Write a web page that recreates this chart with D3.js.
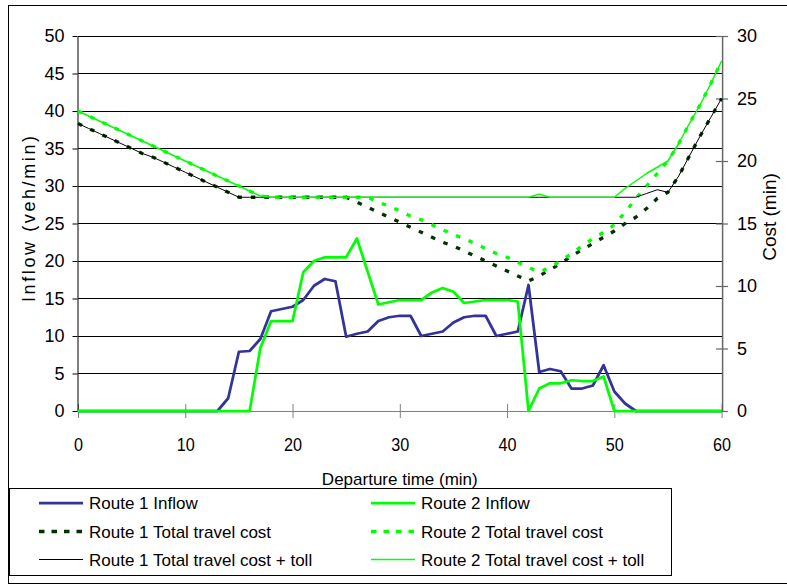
<!DOCTYPE html>
<html><head><meta charset="utf-8">
<script src="https://cdn.jsdelivr.net/npm/d3@7"></script>
<style>
body{margin:0;background:#fff}
svg{display:block}
text{font-family:"Liberation Sans",Arial,sans-serif;fill:#000}
</style>
</head><body>
<svg id="c" width="787" height="586"></svg>
<script>
// ---- data ----
const departureTime = [0,1,2,3,4,5,6,7,8,9,10,11,12,13,14,15,16,17,18,19,20,21,22,23,24,25,26,27,28,29,30,31,32,33,34,35,36,37,38,39,40,41,42,43,44,45,46,47,48,49,50,51,52,53,54,55,56,57,58,59,60];
const route1Inflow = [0,0,0,0,0,0,0,0,0,0,0,0,0,0,1.7,7.9,8.0,9.6,13.3,13.6,13.9,14.8,16.7,17.6,17.3,9.9,10.3,10.6,12.0,12.5,12.7,12.7,10.0,10.3,10.6,11.8,12.5,12.7,12.7,10.0,10.3,10.6,16.8,5.2,5.6,5.3,3.0,3.0,3.4,6.1,2.6,1.0,0,0,0,0,0,0,0,0,0];
const route2Inflow = [0,0,0,0,0,0,0,0,0,0,0,0,0,0,0,0,0,8.4,12.0,12.0,12.0,18.5,20.0,20.5,20.5,20.5,23.0,18.6,14.2,14.5,14.8,14.8,14.8,15.8,16.4,15.9,14.4,14.6,14.8,14.8,14.8,14.6,0,3.0,3.7,3.7,4.1,4.0,4.0,4.6,0,0,0,0,0,0,0,0,0,0,0];
const route1Cost = [23.0,22.6,22.2,21.8,21.4,21.0,20.6,20.3,19.9,19.5,19.1,18.7,18.3,17.9,17.5,17.1,17.1,17.1,17.1,17.1,17.1,17.1,17.1,17.1,17.1,17.1,16.7,16.3,15.9,15.5,15.1,14.7,14.3,13.9,13.5,13.2,12.8,12.4,12.0,11.6,11.2,10.8,10.4,10.8,11.3,11.8,12.4,12.9,13.4,13.9,14.4,15.0,15.5,16.2,17.0,17.5,18.8,20.4,22.0,23.5,25.0];
const route2Cost = [24.0,23.6,23.2,22.8,22.4,22.0,21.6,21.2,20.8,20.4,20.0,19.6,19.2,18.8,18.4,18.0,17.6,17.2,17.1,17.1,17.1,17.1,17.1,17.1,17.1,17.1,17.1,17.1,16.7,16.4,16.0,15.6,15.3,14.9,14.5,14.1,13.8,13.4,13.0,12.6,12.3,11.9,11.5,11.1,11.5,12.0,12.6,13.2,13.8,14.3,14.9,15.9,17.0,18.0,19.0,20.0,21.4,23.0,24.5,26.2,28.0];
const route1CostToll = [23.0,22.6,22.2,21.8,21.4,21.0,20.6,20.3,19.9,19.5,19.1,18.7,18.3,17.9,17.5,17.1,17.1,17.1,17.1,17.1,17.1,17.1,17.1,17.1,17.1,17.1,17.1,17.1,17.1,17.1,17.1,17.1,17.1,17.1,17.1,17.1,17.1,17.1,17.1,17.1,17.1,17.1,17.1,17.1,17.1,17.1,17.1,17.1,17.1,17.1,17.1,17.1,17.1,17.4,17.7,17.5,18.8,20.4,22.0,23.5,25.0];
const route2CostToll = [24.0,23.6,23.2,22.8,22.4,22.0,21.6,21.2,20.8,20.4,20.0,19.6,19.2,18.8,18.4,18.0,17.6,17.2,17.1,17.1,17.1,17.1,17.1,17.1,17.1,17.1,17.1,17.1,17.1,17.1,17.1,17.1,17.1,17.1,17.1,17.1,17.1,17.1,17.1,17.1,17.1,17.1,17.1,17.35,17.1,17.1,17.1,17.1,17.1,17.1,17.1,17.8,18.4,19.0,19.5,20.0,21.4,23.0,24.5,26.2,28.0];
const xTicks = [0,10,20,30,40,50,60];
const leftTicks = [0,5,10,15,20,25,30,35,40,45,50];
const rightTicks = [0,5,10,15,20,25,30];
const legendLabels = ["Route 1 Inflow","Route 2 Inflow","Route 1 Total travel cost","Route 2 Total travel cost","Route 1 Total travel cost + toll","Route 2 Total travel cost + toll"];

// ---- chart ----
const svg = d3.select('#c');
const x = d3.scaleLinear().domain([0,60]).range([78,721.6]);
const yL = d3.scaleLinear().domain([0,50]).range([411,36]);
const yR = d3.scaleLinear().domain([0,30]).range([411,36]);

svg.append('rect').attr('x',8.5).attr('y',5.5).attr('width',800).attr('height',578)
  .attr('fill','#fff').attr('stroke','#000').attr('stroke-width',1);

// gridlines
svg.append('g').selectAll('line').data(leftTicks.filter(v=>v>0)).join('line')
  .attr('x1',x(0)).attr('x2',x(60))
  .attr('y1',d=>yL(d)).attr('y2',d=>yL(d))
  .attr('stroke','#000').attr('stroke-width',1).attr('shape-rendering','crispEdges');

function squeeze(sel, ratio){
  sel.each(function(){
    const w = this.getComputedTextLength();
    d3.select(this).attr('textLength', w*ratio).attr('lengthAdjust','spacingAndGlyphs');
  });
}

// bottom axis
const gx = svg.append('g').attr('transform',`translate(0,${yL(0)})`)
  .call(d3.axisBottom(x).tickValues(xTicks).tickSize(7).tickSizeOuter(0).tickPadding(20).tickFormat(d3.format('d')));
gx.select('.domain').attr('stroke','#808080');
gx.selectAll('.tick line').attr('y1',-7).attr('stroke','#808080');
gx.selectAll('.tick text').attr('font-size',18).attr('font-family','"Liberation Sans",Arial,sans-serif');
squeeze(gx.selectAll('.tick text'),0.9);

// left axis
const gl = svg.append('g').attr('transform',`translate(${x(0)-0.5},0)`)
  .call(d3.axisLeft(yL).tickValues(leftTicks).tickSize(5).tickSizeOuter(0).tickPadding(8));
gl.select('.domain').attr('stroke','#000');
gl.selectAll('.tick line').attr('stroke','#000');
gl.selectAll('.tick text').attr('font-size',18).attr('font-family','"Liberation Sans",Arial,sans-serif');

// right axis
const gr = svg.append('g').attr('transform',`translate(${x(60)+0.5},0)`)
  .call(d3.axisRight(yR).tickValues(rightTicks).tickSize(6).tickSizeOuter(0).tickPadding(9));
gr.select('.domain').attr('stroke','#666').attr('stroke-width',1.5);
gr.selectAll('.tick line').attr('x1',-6).attr('stroke','#666').attr('stroke-width',1.2);
gr.selectAll('.tick text').attr('font-size',18).attr('font-family','"Liberation Sans",Arial,sans-serif');

// axis titles
svg.append('text').attr('x',x(30)).attr('y',485).attr('text-anchor','middle')
  .attr('font-size',17).text('Departure time (min)');
svg.append('text').attr('transform','translate(35,219) rotate(-90)').attr('text-anchor','middle')
  .attr('font-size',18).attr('textLength',166).attr('lengthAdjust','spacing').text('Inflow (veh/min)');
svg.append('text').attr('transform','translate(776,217) rotate(-90)').attr('text-anchor','middle')
  .attr('font-size',19).text('Cost (min)');

// series
const lineL = vals => d3.line().x((d,i)=>x(departureTime[i])).y(d=>yL(d))(vals);
const lineR = vals => d3.line().x((d,i)=>x(departureTime[i])).y(d=>yR(d))(vals);

const styles = [
  {stroke:'#333399', w:2.75, dash:null},
  {stroke:'#00ff00', w:2.75, dash:null},
  {stroke:'#003300', w:3.3, dash:'4.5,9'},
  {stroke:'#00ff00', w:3.3, dash:'4.5,9'},
  {stroke:'#000000', w:1, dash:null},
  {stroke:'#00ff00', w:1.5, dash:null}
];
const paths = [lineL(route1Inflow), lineL(route2Inflow), lineR(route1Cost), lineR(route2Cost), lineR(route1CostToll), lineR(route2CostToll)];
const plot = svg.append('g');
paths.forEach((p,i)=>{
  plot.append('path').attr('d',p).attr('fill','none')
    .attr('stroke',styles[i].stroke).attr('stroke-width',styles[i].w)
    .attr('stroke-linejoin','round')
    .attr('stroke-dasharray',styles[i].dash);
});

// legend
const lg = svg.append('g');
lg.append('rect').attr('x',9.5).attr('y',488.5).attr('width',662).attr('height',87)
  .attr('fill','#fff').attr('stroke','#000').attr('stroke-width',1);
const rowsY = [503,531.5,559.5];
const colX = [39,371];
legendLabels.forEach((lab,i)=>{
  const c = i%2, r = Math.floor(i/2);
  const yy = rowsY[r];
  lg.append('line').attr('x1',colX[c]).attr('x2',colX[c]+44).attr('y1',yy).attr('y2',yy)
    .attr('stroke',styles[i].stroke).attr('stroke-width',styles[i].w)
    .attr('stroke-dasharray',styles[i].dash ? '5.5,7' : null);
  lg.append('text').attr('x',colX[c]+50).attr('y',yy+6.3).attr('font-size',17).text(lab);
});
</script>
</body></html>
